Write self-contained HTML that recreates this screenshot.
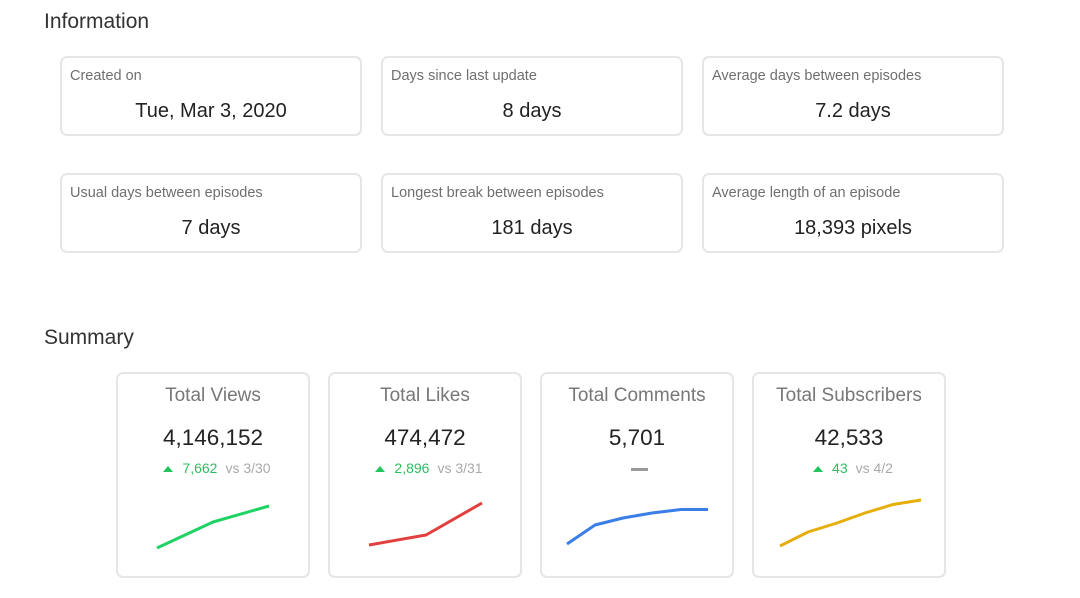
<!DOCTYPE html>
<html>
<head>
<meta charset="utf-8">
<style>
  html, body { margin:0; padding:0; background:#fff; }
  body { width:1080px; height:598px; position:relative; overflow:hidden;
         font-family:"Liberation Sans", "DejaVu Sans", sans-serif; }
  .h { position:absolute; font-size:21px; line-height:21px; color:#333; white-space:nowrap; }
  .ic { position:absolute; width:298px; height:76px; border:2px solid #e6e6e6; border-radius:7px; box-sizing:content-box; }
  .ic .lb { position:absolute; left:8px; top:11px; font-size:14.5px; line-height:14.5px; color:#6f6f6f; white-space:nowrap; }
  .ic .vl { position:absolute; left:0; right:0; top:43px; text-align:center; font-size:20px; line-height:20px; color:#222; white-space:nowrap; }
  .sc { position:absolute; top:372px; width:190px; height:202px; border:2px solid #e6e6e6; border-radius:7px; }
  .sc .t { position:absolute; left:0; right:0; top:12px; text-align:center; font-size:19px; line-height:19px; color:#777; white-space:nowrap; }
  .sc .n { position:absolute; left:0; right:0; top:53px; text-align:center; font-size:22.5px; line-height:22.5px; color:#222; white-space:nowrap; }
  .sc .c { position:absolute; left:0; right:0; top:87px; display:flex; justify-content:center; align-items:center; padding-left:8px; font-size:14px; line-height:14px; white-space:nowrap; }
  .tri { width:0; height:0; border-left:5px solid transparent; border-right:5px solid transparent; border-bottom:6px solid #22c45e; margin-right:9px; margin-top:1px; }
  .g { color:#2cbf60; margin-right:8px; }
  .v { color:#a9a9a9; }
  svg { position:absolute; left:0; top:0; }
</style>
</head>
<body>
  <div class="h" style="left:44px; top:11px;">Information</div>

  <div class="ic" style="left:60px; top:56px;"><div class="lb">Created on</div><div class="vl">Tue, Mar 3, 2020</div></div>
  <div class="ic" style="left:381px; top:56px;"><div class="lb">Days since last update</div><div class="vl">8 days</div></div>
  <div class="ic" style="left:702px; top:56px;"><div class="lb">Average days between episodes</div><div class="vl">7.2 days</div></div>

  <div class="ic" style="left:60px; top:173px;"><div class="lb">Usual days between episodes</div><div class="vl">7 days</div></div>
  <div class="ic" style="left:381px; top:173px;"><div class="lb">Longest break between episodes</div><div class="vl">181 days</div></div>
  <div class="ic" style="left:702px; top:173px;"><div class="lb">Average length of an episode</div><div class="vl">18,393 pixels</div></div>

  <div class="h" style="left:44px; top:327px;">Summary</div>

  <div class="sc" style="left:116px;">
    <div class="t">Total Views</div>
    <div class="n">4,146,152</div>
    <div class="c"><span class="tri"></span><span class="g">7,662</span><span class="v">vs 3/30</span></div>
  </div>
  <div class="sc" style="left:328px;">
    <div class="t">Total Likes</div>
    <div class="n">474,472</div>
    <div class="c"><span class="tri"></span><span class="g">2,896</span><span class="v">vs 3/31</span></div>
  </div>
  <div class="sc" style="left:540px;">
    <div class="t">Total Comments</div>
    <div class="n">5,701</div>
    <div style="position:absolute; left:89px; top:94px; width:17px; height:2.5px; background:#9a9a9a;"></div>
  </div>
  <div class="sc" style="left:752px;">
    <div class="t">Total Subscribers</div>
    <div class="n">42,533</div>
    <div class="c"><span class="tri"></span><span class="g">43</span><span class="v">vs 4/2</span></div>
  </div>

  <svg width="1080" height="598" viewBox="0 0 1080 598">
    <g fill="none" stroke-width="3" stroke-linejoin="round" stroke-linecap="butt">
      <polyline stroke="#1fd263" points="157,548 213,522 269,506"/>
      <polyline stroke="#e2403f" points="369,545 426,535 482,503"/>
      <polyline stroke="#3a7ee8" points="567,544 595,525 623,518 652,513 681,509.5 708,509.5"/>
      <polyline stroke="#e6ae0c" points="780,546 808,532 837,523 865,513 893,504.5 921,500"/>
    </g>
  </svg>
</body>
</html>
